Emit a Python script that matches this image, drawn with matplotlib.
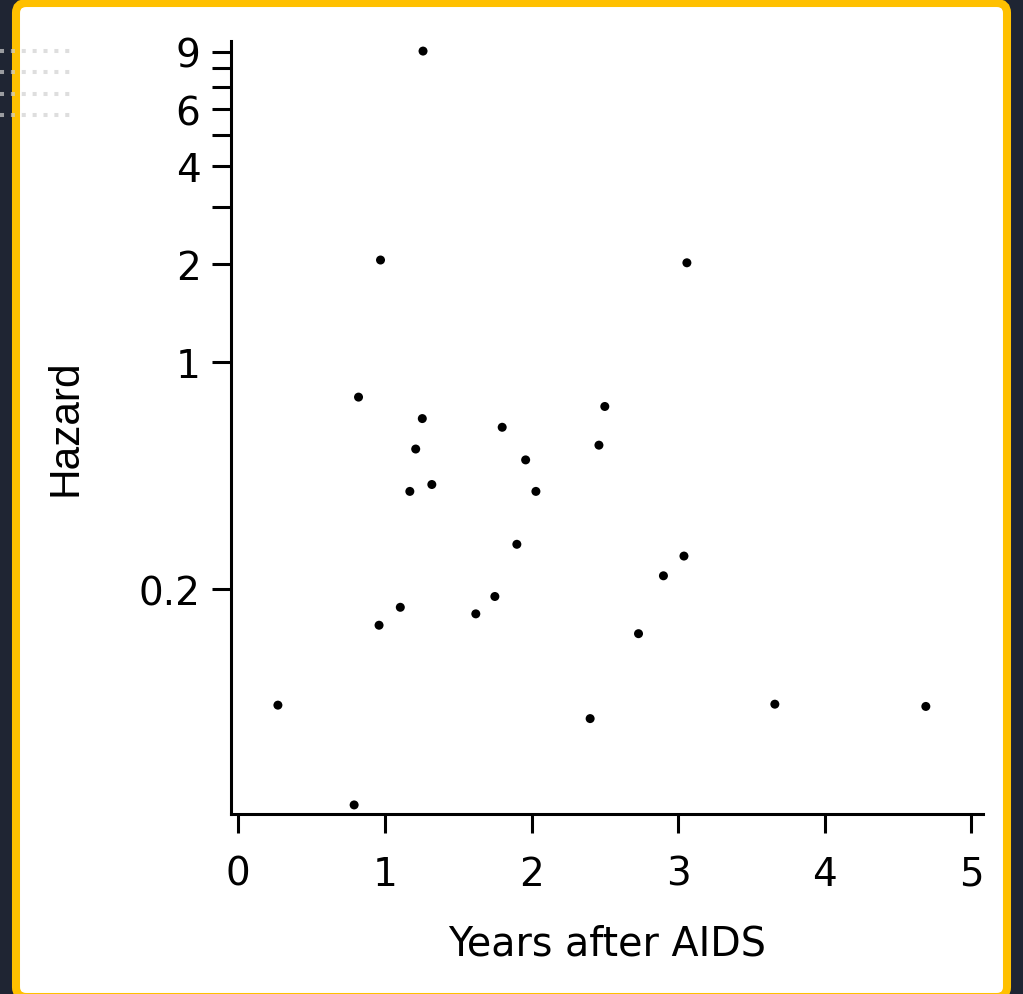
import matplotlib
matplotlib.use("Agg")
import matplotlib.pyplot as plt
from matplotlib.patches import FancyBboxPatch
from matplotlib.lines import Line2D
from matplotlib.ticker import FixedLocator, NullFormatter

years = [1.26, 0.97, 3.06, 0.82, 1.255, 2.50, 1.80, 1.21, 2.46, 1.96, 1.17, 1.32,
         2.03, 1.90, 3.04, 2.90, 1.75, 1.105, 1.62, 0.96, 2.73, 0.27, 3.66, 4.69,
         2.40, 0.79]
hazard = [9.05, 2.06, 2.02, 0.78, 0.67, 0.73, 0.63, 0.54, 0.555, 0.50, 0.40, 0.42,
          0.40, 0.275, 0.253, 0.22, 0.19, 0.176, 0.168, 0.155, 0.146, 0.088, 0.0886,
          0.0872, 0.080, 0.0434]

y_major = [0.2, 1, 2, 4, 6, 9]
y_major_labels = ["0.2", "1", "2", "4", "6", "9"]
y_minor = [3, 5, 7, 8]
x_ticks = [0, 1, 2, 3, 4, 5]

W, H = 1023, 995
fig = plt.figure(figsize=(W / 100, H / 100), dpi=100)
fig.patch.set_facecolor("#1f2533")

# yellow frame with white inside
frame = FancyBboxPatch((16 / W, 1 - 998 / H), (1007 - 16) / W, (998 - 4) / H,
                       boxstyle="round,pad=0,rounding_size=0.01",
                       transform=fig.transFigure, facecolor="white",
                       edgecolor="#FFC000", linewidth=5.8, zorder=-2)
fig.add_artist(frame)

# decorative dotted lines top-left
for yp in [52, 73, 95, 116]:
    fig.add_artist(Line2D([0, 76 / W], [1 - yp / H, 1 - yp / H],
                          transform=fig.transFigure, color="#d0d0d0",
                          linestyle=(0, (1, 1.7)), linewidth=2.9, alpha=0.7,
                          solid_capstyle="butt", zorder=-1))

ax = fig.add_axes([231 / W, 1 - 815 / H, (983 - 231) / W, (815 - 42) / H])
ax.set_zorder(2)
ax.set_facecolor("none")
ax.scatter(years, hazard, s=42, color="black", edgecolors="none", zorder=3)
ax.set_yscale("log")
ax.set_xlim(-0.05, 5.08)
ax.set_ylim(0.0407, 9.72)

for s in ["top", "right"]:
    ax.spines[s].set_visible(False)
for s in ["left", "bottom"]:
    ax.spines[s].set_linewidth(2.2)

ax.yaxis.set_major_locator(FixedLocator(y_major))
ax.set_yticklabels(y_major_labels)
ax.yaxis.set_minor_locator(FixedLocator(y_minor))
ax.yaxis.set_minor_formatter(NullFormatter())
ax.set_xticks(x_ticks)
ax.set_xticklabels([str(v) for v in x_ticks])

tick_font = "DejaVu Sans"
ax.tick_params(axis="both", which="both", length=14, width=2.2, color="black",
               labelsize=28)
ax.tick_params(axis="y", pad=8)
ax.tick_params(axis="x", pad=15.5)
for lab in ax.get_xticklabels() + ax.get_yticklabels():
    lab.set_fontfamily(tick_font)

fig.text(607 / W, 1 - 945 / H, "Years after AIDS", ha="center", va="center",
         fontsize=28.5, family=tick_font)
fig.text(66 / W, 1 - 428 / H, "Hazard", ha="center", va="center", rotation=90,
         fontsize=30.5, family="Liberation Sans")

fig.savefig("out.png", dpi=100, facecolor=fig.get_facecolor())
